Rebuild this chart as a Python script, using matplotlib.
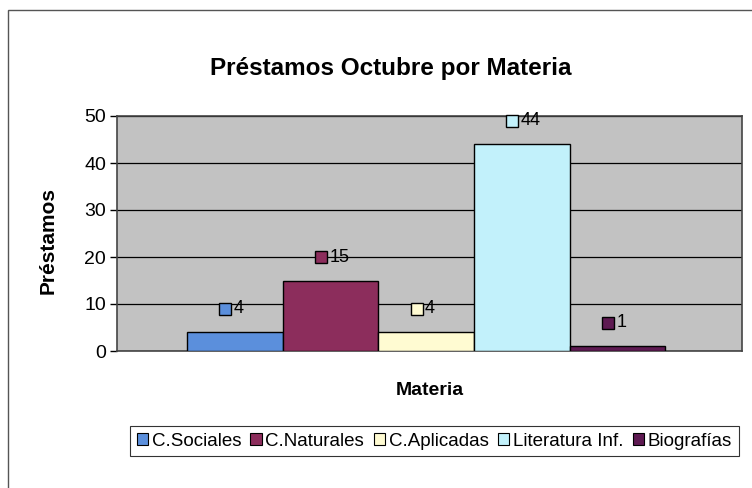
import matplotlib
matplotlib.use('Agg')
import matplotlib.pyplot as plt
from matplotlib.patches import Rectangle, Patch

plt.rcParams['font.family'] = ['Liberation Sans', 'DejaVu Sans']

# datos
materias = ['C.Sociales', 'C.Naturales', 'C.Aplicadas', 'Literatura Inf.', 'Biografías']
prestamos = [4, 15, 4, 44, 1]
colores = ['#5b8fdc', '#8c2d5c', '#fffbd2', '#c2f1fb', '#5e1a52']
yticks = [0, 10, 20, 30, 40, 50]

fig = plt.figure(figsize=(7.52, 4.88), dpi=100)
ax = fig.add_axes([117 / 752, 1 - 351 / 488, (742 - 117) / 752, (351 - 116) / 488])
ax.set_facecolor('#c2c2c2')

x = list(range(len(materias)))
ax.bar(x, prestamos, width=1.0, color=colores, edgecolor='black', linewidth=1.0, zorder=3)

for xi, v, c in zip(x, prestamos, colores):
    ax.plot(xi - 0.1, v + 5, marker='s', ms=8, mfc=c, mec='black', mew=1.0, zorder=4, clip_on=False)
    ax.annotate(str(v), (xi - 0.1, v + 5), xytext=(6, 0), textcoords='offset points',
                va='center', ha='left', fontsize=13, zorder=5)

ax.set_xlim(-1.23, 5.3)
ax.set_ylim(0, 50)
ax.set_yticks(yticks)
ax.set_xticks([])
ax.tick_params(axis='y', labelsize=14, length=5, direction='out', width=1, pad=3)
ax.yaxis.grid(True, color='black', linewidth=0.9, zorder=1)
ax.set_axisbelow(True)
for s in ax.spines.values():
    s.set_color('#444444')
    s.set_linewidth(1.2)

ax.set_ylabel('Préstamos', fontsize=15, fontweight='bold')
ax.yaxis.set_label_coords(-0.095, 0.47)
ax.set_xlabel('Materia', fontsize=14, fontweight='bold', labelpad=22)
fig.text(391 / 752, 1 - 68 / 488, 'Préstamos Octubre por Materia', ha='center', va='center',
         fontsize=17.5, fontweight='bold')

# marco exterior (se sale por la derecha y por abajo)
fig.patches.append(Rectangle((8 / 752, 1 - 520 / 488), 1.2, (520 - 10) / 488, transform=fig.transFigure,
                             fill=False, edgecolor='#555555', linewidth=1.0))

handles = [Patch(facecolor=c, edgecolor='black', linewidth=0.8) for c in colores]
leg = fig.legend(handles, materias, loc='center left', bbox_to_anchor=(130 / 752, 1 - 441 / 488),
                 ncol=5, fontsize=13.5, frameon=True, fancybox=False, handlelength=0.6, handleheight=0.6,
                 handletextpad=0.2, columnspacing=0.5, borderpad=0.35, borderaxespad=0)
leg.get_frame().set_edgecolor('black')
leg.get_frame().set_linewidth(0.8)

fig.savefig('out.png', dpi=100)
